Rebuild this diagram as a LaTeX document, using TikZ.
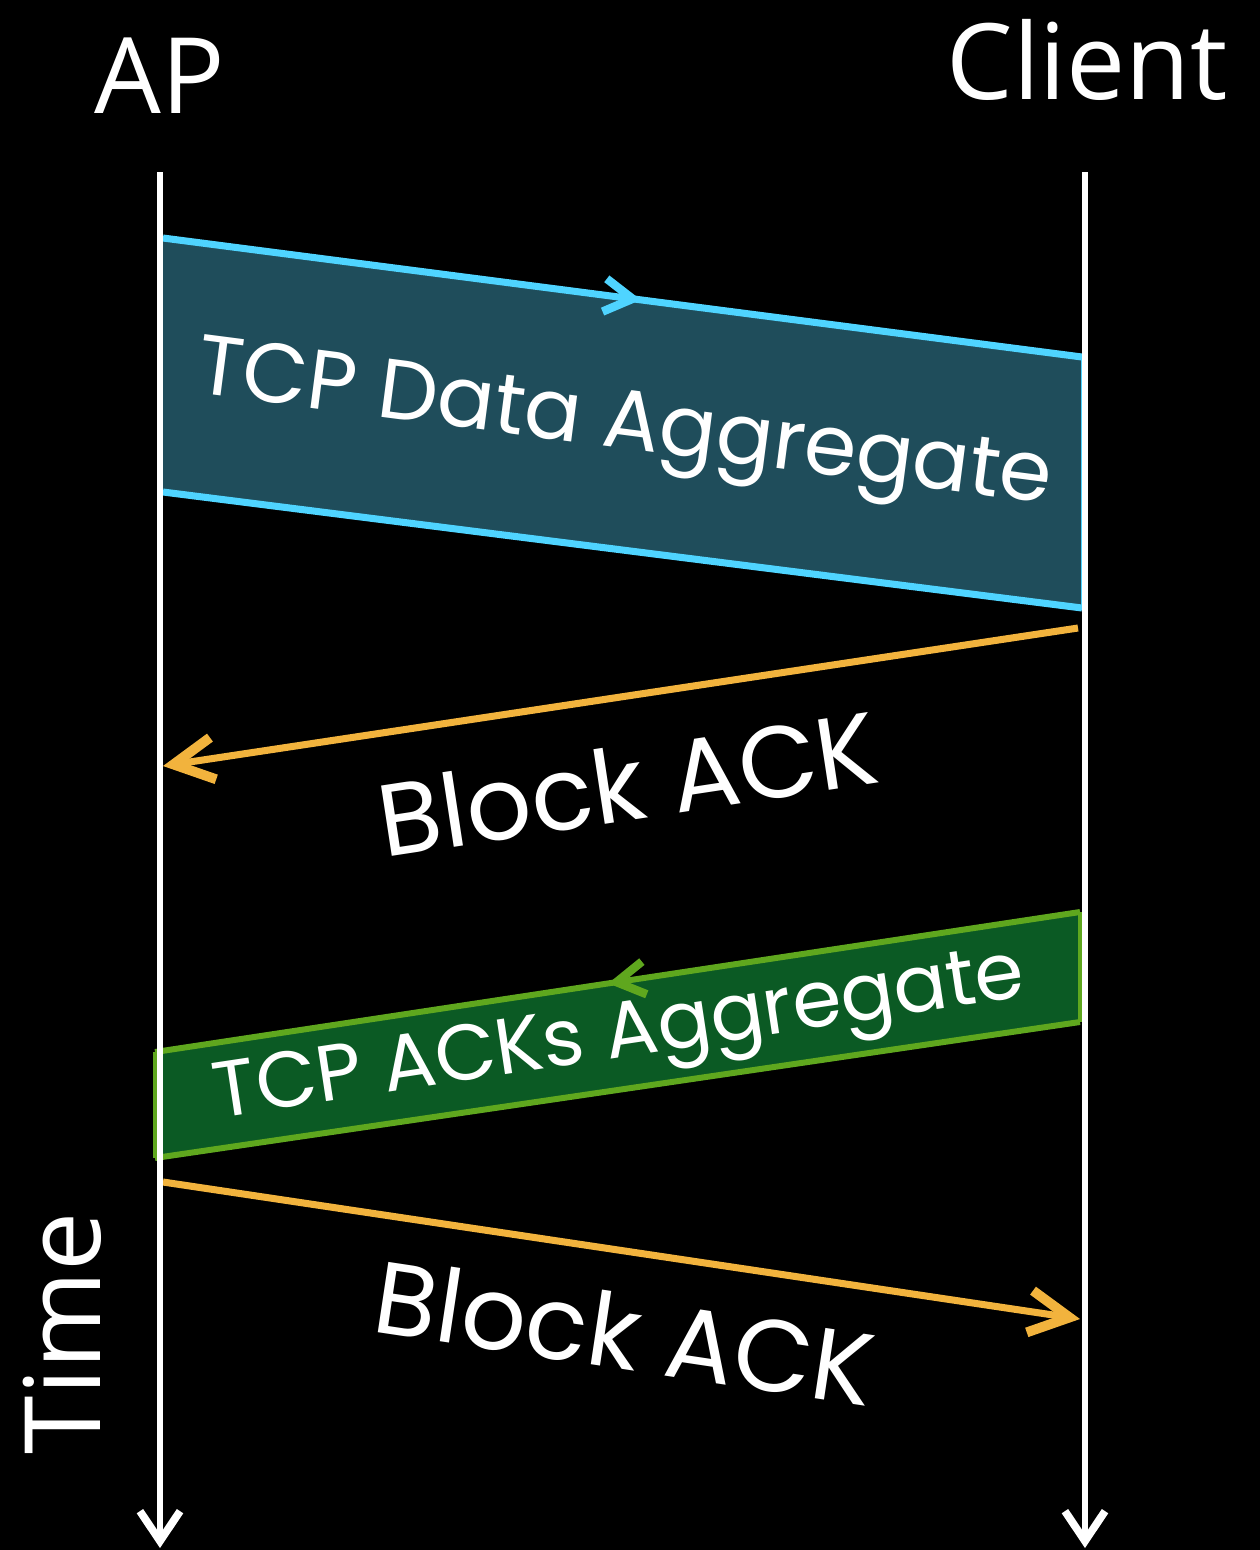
\documentclass[tikz,border=0pt]{standalone}
\usepackage{fontspec}
\usetikzlibrary{arrows.meta, decorations.markings, positioning}
\newfontfamily\headfont{Open Sans}
\newfontfamily\msgfont{Poppins}
\definecolor{databg}{HTML}{1F4D5B}
\definecolor{dataedge}{HTML}{4FD4FF}
\definecolor{ackorange}{HTML}{F2B33D}
\definecolor{ackbg}{HTML}{0B5A24}
\definecolor{ackedge}{HTML}{5FA71E}

\begin{document}
\begin{tikzpicture}[
  x=0.01cm, y=0.01cm,
  lifeline/.style={draw=white, line width=1.6pt,
    -{Straight Barb[length=8.5pt, width=11.4pt, line width=2.2pt]}},
  header/.style={text=white, inner sep=0pt,
    font=\headfont\fontsize{30}{30}\selectfont},
  msg/.style={text=white, inner sep=0pt,
    font=\msgfont\fontsize{24}{24}\selectfont},
  blockack/.style={draw=ackorange, line width=2pt,
    -{Straight Barb[length=11.4pt, width=12pt, line width=2.8pt]}},
  midarrow/.style={postaction={decorate},
    decoration={markings, mark=at position #1 with
      {\arrow{Straight Barb[length=8pt, width=9.4pt, line width=2.4pt]}}}}
]
\fill[black] (0,0) rectangle (1260,-1550);
\useasboundingbox (0,0) rectangle (1260,-1550);

% headers
\node[header] (ap) at (160,-76) {AP};
\node[header] (client) at (1087,-60) {Client};
\node[header, rotate=90] (time) at (62,-1333) {Time};

% data aggregate
\coordinate (d1) at (163,-238);
\coordinate (d2) at (1082,-357);
\coordinate (d3) at (1082,-608);
\coordinate (d4) at (163,-492);
\fill[databg] (d1) -- (d2) -- (d3) -- (d4) -- cycle;
\draw[dataedge, line width=2pt, midarrow=0.52] (d1) -- (d2);
\draw[dataedge, line width=2pt] (d4) -- (d3);
\draw[dataedge, line width=0.8pt] (d2) -- (d3);
\node[msg, rotate=-7.4] (datalbl) at (624,-430) {TCP Data Aggregate};

% first block ack
\coordinate (b1s) at (1078,-628);
\coordinate (b1e) at (163,-766);
\draw[blockack] (b1s) -- (b1e);
\node[msg, font=\msgfont\fontsize{29}{29}\selectfont, rotate=8.66] (ack1lbl) at (628,-783) {Block ACK};

% tcp acks aggregate
\coordinate (g1) at (1080,-912);
\coordinate (g2) at (1080,-1022);
\coordinate (g3) at (155,-1158);
\coordinate (g4) at (155,-1052);
\fill[ackbg] (g1) -- (g2) -- (g3) -- (g4) -- cycle;
\draw[ackedge, line width=1.7pt, midarrow=0.51] (g1) -- (g4);
\draw[ackedge, line width=1.7pt] (g2) -- (g3);
\draw[ackedge, line width=1.1pt] (g1) -- (g2);
\draw[ackedge, line width=1.1pt] (g3) -- (g4);
\node[msg, font=\msgfont\fontsize{22.5}{22.5}\selectfont, rotate=8.6] (tcpacklbl) at (620,-1040) {TCP ACKs Aggregate};

% second block ack
\coordinate (b2s) at (163,-1182);
\coordinate (b2e) at (1080,-1319);
\draw[blockack] (b2s) -- (b2e);
\node[msg, font=\msgfont\fontsize{29}{29}\selectfont, rotate=-8.56] (ack2lbl) at (625,-1332) {Block ACK};

% lifelines
\coordinate (apTop) at (160,-172);
\coordinate (apEnd) at (160,-1548);
\coordinate (clTop) at (1085,-172);
\coordinate (clEnd) at (1085,-1548);
\draw[lifeline] (apTop) -- (apEnd);
\draw[lifeline] (clTop) -- (clEnd);
\end{tikzpicture}
\end{document}
